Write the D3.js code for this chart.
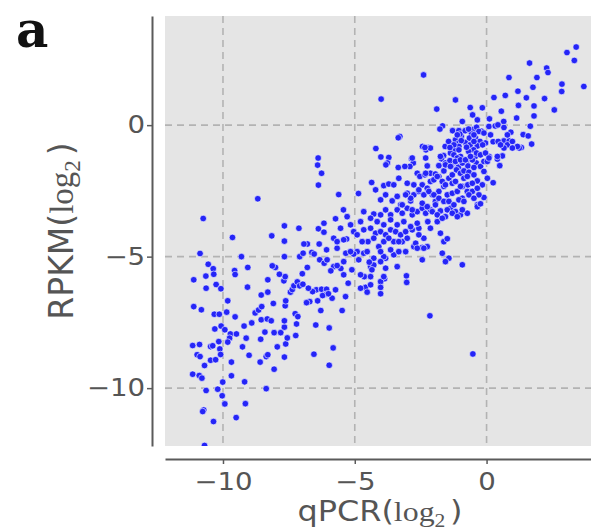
<!DOCTYPE html>
<html><head><meta charset="utf-8">
<script src="https://cdn.jsdelivr.net/npm/d3@7"></script>
<style>body{margin:0;background:#fff}</style>
</head><body>
<svg id="c" width="591" height="532"></svg>
<script>
// qPCR (log2) / RPKM (log2) values, grouped by region of the plot
const qpcrA=[3.40,3.05,3.33,3.69,1.63,2.28,2.33,1.91,0.85,2.86,2.85,1.76,1.19,0.71,0.28,1.51,2.20,1.21,1.80,2.57,0.56,-0.16,-0.62,-0.53,1.80,1.14,0.11,0.65,1.66,0.09,0.33,0.43,-2.39,-4.00,-1.18,-1.89,-1.67,-1.77,-1.29,-1.05,-0.47,-0.19,-0.57,0.92,1.39,1.58,-0.96,0.15,0.66,0.86,0.79,1.32,1.24,1.71,0.25,-0.04,-3.29,-3.35,-4.20,-2.43,-2.21,-2.30,-1.57,-1.44,-1.18,-1.05,-0.80,-0.65,-0.42,-0.25,-0.35,-0.62,-0.49,-0.68,-1.24,-1.37,0.10,0.60,0.41,0.50,-4.01,-3.71,-3.76,-3.82,-2.85,-2.78,-2.91,-2.31,-2.25,-1.63,-1.71,-1.56,-1.24,-1.33,-1.07,-0.99,-0.77,-0.71,-0.43,-0.39,-0.23,-0.10,-3.35,-3.10,-6.39,-6.41,-6.26,-6.38,-8.68,-5.61,-4.86,-5.43];
const rpkmA=[2.97,2.76,2.46,1.47,2.36,2.17,2.00,1.81,1.81,1.56,1.28,1.44,1.29,1.13,1.05,1.04,1.01,0.75,0.73,0.58,0.53,0.66,0.67,0.39,0.35,0.27,0.24,0.14,-0.04,-0.05,-0.03,0.01,1.91,0.99,0.96,0.61,-0.03,-0.15,-0.21,-0.21,-0.15,-0.23,-0.33,-0.27,-0.36,-0.41,-0.43,-0.37,-0.60,-0.60,-0.75,-0.85,-0.87,-0.72,-0.63,-0.68,-0.43,-0.48,-0.89,-0.81,-0.85,-0.94,-0.81,-0.62,-0.56,-0.68,-0.66,-0.49,-0.49,-0.62,-0.79,-0.75,-0.94,-1.00,-0.94,-1.06,-1.19,-1.17,-1.29,-1.54,-1.21,-1.23,-1.44,-1.51,-1.28,-1.44,-1.57,-1.25,-1.55,-1.16,-1.28,-1.44,-1.38,-1.55,-1.60,-1.19,-1.41,-1.55,-1.19,-1.44,-1.57,-1.38,-1.61,-1.57,-1.25,-1.52,-1.83,-2.28,-2.80,-2.64,-2.60,-3.22];
const qpcrB=[-1.01,-0.81,-0.68,-0.38,-0.29,-0.10,0.66,-0.96,-0.48,-0.15,0.44,0.98,1.17,0.66,0.53,-0.76,-1.05,-1.24,-1.39,-2.13,-1.81,-1.39,-1.24,-1.05,-1.11,-0.92,-0.54,-0.38,-0.23,0.03,-0.48];
const rpkmB=[-0.34,-0.21,-0.15,-0.08,-0.24,-0.30,-0.09,-0.59,-0.62,-0.75,-0.62,-0.62,-0.81,-0.87,-0.75,-0.84,-0.81,-0.75,-0.85,-0.87,-1.54,-1.35,-1.13,-0.94,-1.25,-1.44,-1.32,-1.06,-1.13,-1.38,-1.61];
const qpcrC=[-4.36,-4.21,-3.90,-3.71,-3.52,-3.33,-3.01,-2.63,-2.53,-2.34,-2.13,-1.94,-1.81,-1.62,-1.43,-1.30,-1.14,-0.99,-0.86,-0.67,-0.48,-0.35,-0.16,0.03,0.25,-0.10];
const rpkmC=[-2.18,-2.46,-2.30,-2.24,-2.27,-2.02,-2.21,-1.83,-1.95,-1.89,-1.83,-1.86,-1.95,-1.74,-2.02,-1.89,-1.70,-1.83,-1.74,-1.79,-1.89,-2.12,-2.27,-2.02,-2.19,-1.76];
const qpcrD=[-4.02,-3.83,-3.58,-3.39,-3.26,-3.01,-2.88,-2.76,-2.57,-2.44,-2.25,-2.13,-2.06,-1.94,-1.81,-1.62,-1.49,-1.30,-1.11,-0.92,-0.73,-0.54,-0.35,-0.10,-0.92,-0.71];
const rpkmD=[-2.84,-2.65,-2.88,-2.71,-3.03,-2.59,-2.88,-2.65,-2.52,-2.27,-2.40,-2.14,-2.65,-2.90,-2.52,-2.33,-2.65,-2.59,-2.52,-2.78,-2.52,-2.52,-3.03,-2.75,-2.33,-2.27];
const qpcrE=[-5.73,-5.29,-4.78,-4.28,-4.02,-3.83,-3.64,-3.39,-3.20,-3.01,-2.82,-2.63,-2.44,-2.31,-2.13,-1.94,-1.75,-1.56,-1.37,-1.18,-0.99,-0.73,-2.23,-1.87,-0.35,-0.23];
const rpkmE=[-3.56,-3.48,-3.67,-3.38,-3.41,-3.22,-3.41,-3.22,-3.35,-3.16,-3.41,-3.29,-3.16,-3.35,-3.22,-3.03,-3.26,-3.48,-3.16,-3.29,-3.41,-3.35,-3.67,-3.67,-3.10,-2.99];
const qpcrF=[-5.04,-4.66,-4.40,-4.21,-4.02,-3.83,-3.64,-3.45,-3.26,-3.07,-2.82,-2.57,-2.38,-2.13,-1.75,-1.62,-5.31,-5.80,-4.50,-4.09,-3.90,-3.52,-3.20,-2.76,-2.25,-1.49,-2.44,-2.69,-5.42];
const rpkmF=[-4.05,-3.98,-3.92,-4.11,-4.05,-4.17,-3.98,-4.05,-4.17,-4.05,-3.98,-3.92,-4.30,-3.92,-4.11,-4.43,-4.33,-4.30,-4.43,-4.62,-4.43,-4.43,-4.43,-4.62,-4.62,-4.32,-4.65,-4.49,-4.36];
const qpcrG=[-5.67,-4.91,-4.66,-4.28,-3.83,-3.52,-3.33,-2.63,-2.44,-1.68,-1.43,-1.56,-0.92,-4.85,-5.42,-4.40,-3.83,-3.39,-3.90,-4.02,-5.04,-5.34,-5.53,-5.80,-5.67,-5.91,-6.33,-6.16,-6.05,-6.07,-6.63,-6.54,-6.35,-6.80,-6.93,-7.09,-6.96,-6.38,-6.17,-6.17,-4.64,-4.28,-4.45,-4.35,-3.87,-3.04,-3.03];
const rpkmG=[-4.68,-4.81,-4.87,-5.06,-5.06,-4.93,-4.81,-4.68,-5.12,-4.87,-5.06,-5.19,-5.31,-5.12,-5.19,-5.38,-5.44,-5.38,-5.00,-5.19,-4.90,-4.87,-5.45,-5.38,-5.34,-5.54,-5.12,-5.25,-5.12,-4.74,-4.84,-4.90,-4.52,-4.52,-4.52,-5.00,-4.87,-3.94,-3.73,-4.07,-5.76,-5.32,-5.21,-5.50,-5.84,-5.73,-5.98];
const qpcrH=[-4.78,-4.40,-4.02,-3.90,-5.42,-4.59,-4.78,-4.40,-4.02,-4.02,-5.35,-5.73,-5.86,-4.53,-5.25,-5.11,-6.46,-6.26,-6.07,-6.08,-6.22,-6.00,-6.41,-6.71,-6.83,-6.60,-6.76,-6.29,-5.48,-6.48,-5.97,-6.55,-5.82,-5.97,-2.15,-0.52];
const rpkmH=[-5.69,-5.76,-5.95,-5.76,-5.69,-6.17,-6.20,-6.07,-6.17,-6.41,-6.52,-6.26,-6.58,-6.35,-6.01,-5.50,-6.26,-6.24,-6.24,-6.43,-6.48,-6.41,-6.68,-6.71,-6.75,-6.33,-6.20,-7.05,-7.05,-7.60,-7.71,-8.71,-8.47,-9.13,-7.25,-8.70];
const qpcrI=[-10.75,-9.64,-8.15,-7.67,-7.12,-7.67,-7.67,-9.30,-10.87,-10.56,-10.37,-10.35,-11.11,-10.65,-10.64,-10.26,-10.08,-9.56,-9.54,-9.06,-9.07,-9.82,-11.11,-10.82,-10.33,-10.14,-9.86,-9.54,-10.31,-10.07,-9.93,-9.72,-9.75,-9.82,-9.49,-11.15,-10.89,-10.98,-10.87,-10.47,-10.39,-10.16,-10.12,-10.09,-10.47,-10.28,-10.70,-9.68,-11.15,-10.90,-10.80,-10.64,-10.20,-10.01,-9.68,-9.18,-10.03,-9.93,-10.73,-10.77,-9.15,-9.50,-10.36,-10.70,-9.26,-9.01,-8.59,-8.36,-8.30,-8.06,-8.36,-9.12,-8.91,-9.20,-8.57,-8.41,-8.55,-8.32,-8.17,-8.06,-7.94,-7.81,-7.67,-7.67,-7.62,-7.67,-7.56,-7.24,-7.21,-7.26,-7.16,-8.78,-8.65,-8.53,-8.55,-8.09,-8.30,-8.30,-8.01,-8.13,-7.69,-7.64,-7.86,-7.64,-7.62,-7.44,-7.37,-7.31,-7.18,-7.09,-6.99,-6.80,-6.97];
const rpkmI=[-3.55,-4.27,-4.21,-3.83,-3.92,-4.41,-5.00,-5.00,-4.88,-5.29,-5.46,-5.67,-5.88,-5.74,-6.20,-6.06,-6.22,-5.53,-5.68,-5.41,-6.16,-6.68,-6.90,-7.02,-7.19,-7.19,-7.11,-7.29,-7.75,-7.64,-7.78,-7.94,-8.10,-8.25,-7.94,-8.38,-8.34,-8.73,-8.80,-8.42,-8.39,-8.23,-8.51,-8.72,-8.94,-8.92,-9.14,-9.01,-9.47,-9.52,-9.62,-10.09,-10.04,-9.77,-9.53,-9.76,-10.29,-10.60,-10.83,-10.89,-10.59,-11.12,-11.27,-12.18,-8.43,-8.75,-9.01,-8.80,-8.73,-9.28,-10.02,-8.10,-7.52,-7.64,-8.14,-7.87,-7.40,-7.37,-7.44,-7.89,-8.43,-7.89,-7.68,-7.44,-8.32,-8.82,-8.09,-8.00,-7.56,-7.17,-7.28,-7.14,-7.03,-6.90,-6.46,-6.78,-6.35,-5.88,-5.41,-5.35,-5.92,-5.76,-5.67,-6.87,-6.68,-6.35,-6.25,-6.11,-5.96,-6.11,-5.65,-5.41,-6.05];
const qpcrJ=[-2.82,-2.34,-1.75,-1.56,-1.37,-1.18,-0.99,-0.80,-0.61,-0.04,0.09,0.41,-2.31,-2.00,-1.87,-1.68,-1.56,-1.30,-1.18,-0.99,-0.86,-0.73,-0.54,-0.35,-0.29,-2.76,-2.57,-2.38,-2.19,-2.00,-1.81,-1.62,-1.43,-1.24,-1.05,-0.86,-0.67,-0.48,-2.88,-3.07,-3.20,-2.82,-2.44,-2.25,-2.06,-1.87,-1.68,-1.49,-1.30,-1.11,-0.92];
const rpkmJ=[-1.25,-0.85,-1.19,-1.51,-1.57,-1.38,-1.32,-1.32,-1.19,-1.06,-1.25,-1.19,-1.83,-2.08,-1.95,-2.14,-2.27,-2.21,-2.14,-2.33,-2.02,-1.95,-2.21,-2.40,-2.65,-2.27,-2.46,-2.65,-2.52,-2.65,-2.78,-2.90,-2.90,-3.03,-2.84,-2.90,-2.65,-2.78,-2.78,-2.65,-3.03,-3.22,-2.97,-3.10,-3.29,-3.41,-3.54,-3.22,-3.35,-3.48,-3.22];
const qpcrK=[-4.66,-4.40,-4.15,-3.90,-3.64,-3.39,-3.14,-2.88,-2.63,-4.91,-4.72,-4.28,-3.71,-3.33,-3.01,-2.57,-5.16,-4.53,-4.02,-3.64,-3.07,-2.38,-5.54,-5.16,-5.67,-0.92,-0.35,-1.11,-0.48,0.98,0.79];
const rpkmK=[-3.29,-3.54,-3.67,-3.79,-3.60,-3.79,-3.67,-3.86,-3.73,-4.17,-4.43,-4.30,-4.30,-4.43,-4.30,-4.17,-4.81,-4.81,-4.81,-4.74,-4.81,-4.68,-3.92,-3.79,-4.43,0.14,0.20,-0.37,-0.37,-0.87,-0.37];

const xTicks=[-10,-5,0];
const yTicks=[0,-5,-10];
const xDomain=[-12.2,4.0];
const yDomain=[-12.2,4.15];
const panelLabel="a";

const qpcr=[].concat(qpcrA,qpcrB,qpcrC,qpcrD,qpcrE,qpcrF,qpcrG,qpcrH,qpcrI,qpcrJ,qpcrK);
const rpkm=[].concat(rpkmA,rpkmB,rpkmC,rpkmD,rpkmE,rpkmF,rpkmG,rpkmH,rpkmI,rpkmJ,rpkmK);
const pts=d3.range(Math.min(qpcr.length,rpkm.length)).map(i=>({x:qpcr[i],y:rpkm[i]}));

const svg=d3.select('#c');
const L=165,R=592,T=16,B=446;
const x=d3.scaleLinear().domain(xDomain).range([L,R]);
const y=d3.scaleLinear().domain(yDomain).range([B,T]);

svg.append('rect').attr('x',L).attr('y',T).attr('width',R-L).attr('height',B-T).attr('fill','#e5e5e5');

const grid=svg.append('g').attr('stroke','#b3b3b3').attr('stroke-width',1.6).attr('stroke-dasharray','7,5');
grid.selectAll('.gx').data(xTicks).join('line').attr('x1',d=>x(d)).attr('x2',d=>x(d)).attr('y1',T).attr('y2',B);
grid.selectAll('.gy').data(yTicks).join('line').attr('y1',d=>y(d)).attr('y2',d=>y(d)).attr('x1',L).attr('x2',R);

svg.append('clipPath').attr('id','cp').append('rect').attr('x',L).attr('y',T).attr('width',R-L).attr('height',B-T);
svg.append('g').attr('clip-path','url(#cp)').selectAll('circle').data(pts).join('circle')
  .attr('cx',d=>x(d.x)).attr('cy',d=>y(d.y)).attr('r',3.3)
  .attr('fill','#2525f7').attr('stroke','#ffffff').attr('stroke-width',0.6);

const fmt=d3.format('');
const sx=1.15;
const yAxis=svg.append('g').attr('transform','translate(152,0)')
  .call(d3.axisLeft(y).tickValues(yTicks).tickFormat(fmt).tickSize(5).tickSizeOuter(0).tickPadding(1));
const xAxis=svg.append('g').attr('transform','translate(0,459)')
  .call(d3.axisBottom(x).tickValues(xTicks).tickFormat(fmt).tickSize(5).tickSizeOuter(0).tickPadding(9));
[yAxis,xAxis].forEach(a=>{
  a.select('.domain').attr('stroke','#5a5a5a').attr('stroke-width',2);
  a.selectAll('.tick line').attr('stroke','#5a5a5a').attr('stroke-width',1.5);
  a.selectAll('.tick text').attr('fill','#555').attr('font-family','DejaVu Sans').attr('font-size',24)
    .attr('transform',`scale(${sx},1)`);
});

// x label
const xl=svg.append('text').attr('text-anchor','middle').attr('fill','#555').attr('font-size',28)
  .attr('transform','translate(380,521)');
xl.append('tspan').attr('font-family','DejaVu Sans').text('qPCR(');
xl.append('tspan').attr('font-family','Liberation Serif').text('log');
xl.append('tspan').attr('font-family','Liberation Serif').attr('font-size',19).attr('dy',6).text('2');
xl.append('tspan').attr('font-family','DejaVu Sans').attr('dy',-6).attr('dx',4).text(')');
const xw=xl.node().getBBox().width;
xl.attr('transform',`translate(380,521) scale(${165/xw},1)`);

// y label
const yl=svg.append('text').attr('text-anchor','middle').attr('fill','#555').attr('font-size',33)
  .attr('transform','translate(73,231) rotate(-90)');
yl.append('tspan').attr('font-family','DejaVu Sans').text('RPKM(');
yl.append('tspan').attr('font-family','Liberation Serif').text('log');
yl.append('tspan').attr('font-family','Liberation Serif').attr('font-size',23).attr('dy',7).text('2');
yl.append('tspan').attr('font-family','DejaVu Sans').attr('dy',-7).attr('dx',5).text(')');

svg.append('text').attr('x',16).attr('y',47).attr('font-family','DejaVu Serif').attr('font-weight','bold')
  .attr('font-size',50).attr('fill','#111').text(panelLabel);
</script>
</body></html>
